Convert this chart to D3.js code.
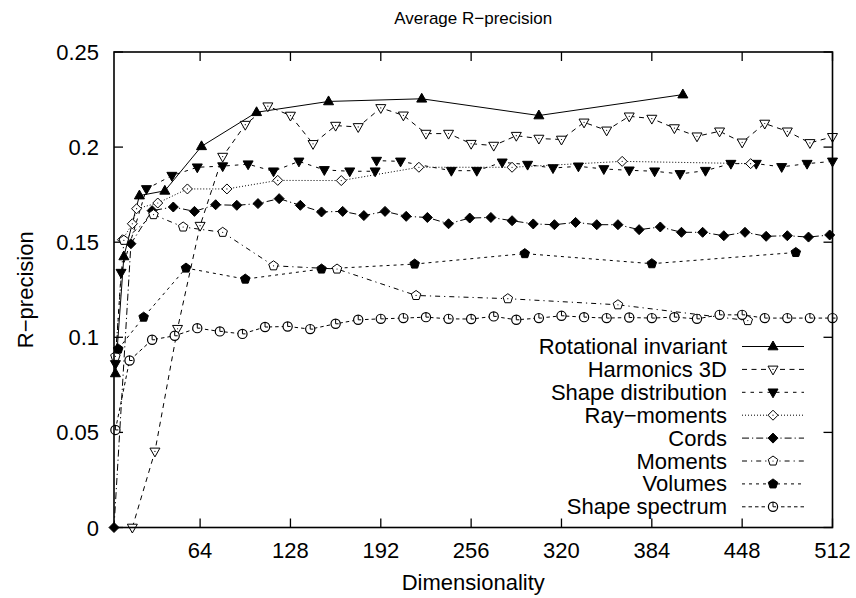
<!DOCTYPE html>
<html>
<head>
<meta charset="utf-8">
<script src="https://cdn.jsdelivr.net/npm/d3@7"></script>
<style>
  body { margin: 0; background: #fff; }
  svg text { font-family: "Liberation Sans", Arial, sans-serif; fill: #000; }
</style>
</head>
<body>
<svg class="svg"></svg>
<script>
// values: [dimensionality, R-precision]
const rotationalInvariant = [[4,0.081],[10,0.1425],[21,0.1745],[39,0.177],[65,0.2004],[104,0.2183],[155,0.224],[221,0.2254],[304,0.2166],[406,0.2276]]
const harmonics3D = [[16,0],[32,0.040],[48,0.1045],[64,0.1587],[80,0.195],[96,0.2118],[112,0.2215],[128,0.2166],[144,0.2017],[160,0.2113],[176,0.2106],[192,0.2206],[208,0.2167],[224,0.2071],[240,0.2071],[256,0.2018],[272,0.2008],[288,0.206],[304,0.2045],[320,0.204],[336,0.213],[352,0.2088],[368,0.2162],[384,0.215],[400,0.210],[416,0.2057],[432,0.2083],[448,0.2025],[464,0.2124],[480,0.2083],[496,0.2022],[512,0.2054]]
const shapeDistribution = [[4,0.086],[8,0.134],[26,0.178],[44,0.185],[62,0.1894],[80,0.190],[98,0.191],[116,0.1873],[134,0.1925],[152,0.188],[170,0.1873],[188,0.1873],[189,0.1929],[206,0.1925],[242,0.1876],[260,0.1876],[278,0.192],[296,0.1908],[314,0.189],[332,0.1899],[350,0.1885],[368,0.1878],[386,0.1873],[404,0.1859],[422,0.1876],[440,0.1913],[458,0.1913],[476,0.1896],[494,0.1913],[512,0.1925]]
const rayMoments = [[9,0.1513],[16,0.1597],[19,0.1676],[34,0.1706],[55,0.178],[83,0.178],[119,0.1825],[164,0.1824],[219,0.1894],[285,0.1894],[363,0.1925],[454,0.1913]]
const cords = [[3,0],[15,0.1492],[30,0.1666],[45,0.1685],[60,0.1662],[75,0.1697],[90,0.1694],[105,0.1703],[120,0.1729],[135,0.1694],[150,0.1659],[165,0.1662],[180,0.164],[195,0.1662],[210,0.1636],[225,0.163],[240,0.1597],[255,0.1627],[270,0.163],[285,0.1613],[300,0.1596],[315,0.1592],[330,0.1604],[345,0.1592],[360,0.1592],[375,0.1566],[390,0.158],[405,0.1552],[420,0.1552],[435,0.1534],[450,0.1552],[465,0.1531],[480,0.1534],[495,0.1527],[510,0.1538]]
const moments = [[4,0.09],[10,0.151],[31,0.1645],[52,0.158],[80,0.1552],[116,0.1376],[161,0.1359],[217,0.122],[282,0.1203],[360,0.1171],[452,0.1088]]
const volumes = [[6,0.0938],[24,0.1106],[54,0.1364],[96,0.1306],[150,0.1359],[216,0.1385],[294,0.144],[384,0.1387],[486,0.1446]]
const shapeSpectrum = [[4,0.0513],[14,0.0878],[30,0.0987],[46,0.1008],[62,0.1048],[78,0.1031],[94,0.1018],[110,0.1054],[126,0.1057],[142,0.1043],[160,0.1071],[176,0.1092],[192,0.1097],[208,0.1101],[224,0.1106],[240,0.1097],[256,0.1096],[272,0.111],[288,0.1092],[304,0.1101],[320,0.1113],[336,0.1106],[352,0.1101],[368,0.1104],[384,0.1101],[400,0.1106],[416,0.1097],[432,0.1118],[448,0.1118],[464,0.1101],[480,0.1101],[496,0.1101],[512,0.1101]]

const seriesNames = ["Rotational invariant", "Harmonics 3D", "Shape distribution", "Ray\u2212moments", "Cords", "Moments", "Volumes", "Shape spectrum"]
const xTicks = [64, 128, 192, 256, 320, 384, 448, 512]
const yTicks = [0, 0.05, 0.1, 0.15, 0.2, 0.25]

// line style + point type per series (gnuplot look)
const series = [
  { data: rotationalInvariant, dash: null, mark: "triUp", fill: true },
  { data: harmonics3D, dash: "5,4.5", mark: "triDown", fill: false },
  { data: shapeDistribution, dash: "3.5,5", mark: "triDown", fill: true },
  { data: rayMoments, dash: "1,2", mark: "diamond", fill: false },
  { data: cords, dash: "7,3,1.2,3", mark: "diamond", fill: true },
  { data: moments, dash: "5,4,1.2,4", mark: "pentagon", fill: false },
  { data: volumes, dash: "3,4", mark: "pentagon", fill: true },
  { data: shapeSpectrum, dash: "3.5,3", mark: "circle", fill: false }
].map((s, i) => ({ ...s, name: seriesNames[i] }))

const metrics = { width: 856, height: 598, left: 114, right: 832.5, top: 52, bottom: 527.5 }
const fontSize = "22px"

const svg = d3.select(".svg")
  .attr("width", metrics.width)
  .attr("height", metrics.height)

const x = d3.scaleLinear().domain([3, 512]).range([metrics.left, metrics.right])
const y = d3.scaleLinear().domain([0, 0.25]).range([metrics.bottom, metrics.top])

function markPath(type) {
  if (type === "triUp") return "M0,-5.5L5,3.3L-5,3.3Z"
  if (type === "triDown") return "M0,5.5L5,-3.3L-5,-3.3Z"
  if (type === "diamond") return "M0,-5L5,0L0,5L-5,0Z"
  if (type === "pentagon") {
    const pts = d3.range(5).map(k => {
      const a = -Math.PI / 2 + k * 2 * Math.PI / 5
      return [5 * Math.cos(a), 5 * Math.sin(a)]
    })
    return "M" + pts.map(p => p.join(",")).join("L") + "Z"
  }
  return null
}

function drawMark(g, s) {
  if (s.mark === "circle") {
    g.append("circle").attr("r", 4.6).attr("fill", "#fff").attr("stroke", "#000").attr("stroke-width", 1.2)
    g.append("path").attr("d", "M0,-4.6V0H3").attr("fill", "none").attr("stroke", "#000").attr("stroke-width", 1)
    return
  }
  g.append("path")
    .attr("d", markPath(s.mark))
    .attr("fill", s.fill ? "#000" : "#fff")
    .attr("stroke", "#000")
    .attr("stroke-width", 1)
  if (!s.fill) g.append("circle").attr("r", 0.6).attr("fill", "#000")
}

// frame ticks (inward, mirrored like gnuplot)
const axes = svg.append("g").attr("stroke", "#000").attr("stroke-width", 1.3)
xTicks.forEach(t => {
  axes.append("line").attr("x1", x(t)).attr("x2", x(t)).attr("y1", metrics.bottom).attr("y2", metrics.bottom - 9)
  axes.append("line").attr("x1", x(t)).attr("x2", x(t)).attr("y1", metrics.top).attr("y2", metrics.top + 9)
})
yTicks.forEach(t => {
  axes.append("line").attr("x1", metrics.left).attr("x2", metrics.left + 9).attr("y1", y(t)).attr("y2", y(t))
  axes.append("line").attr("x1", metrics.right).attr("x2", metrics.right - 9).attr("y1", y(t)).attr("y2", y(t))
})

svg.append("g").selectAll("text")
  .data(xTicks).join("text")
  .attr("x", d => x(d)).attr("y", 558)
  .attr("text-anchor", "middle").style("font-size", fontSize)
  .text(d => d)

svg.append("g").selectAll("text")
  .data(yTicks).join("text")
  .attr("x", 99).attr("y", d => y(d) + 8)
  .attr("text-anchor", "end").style("font-size", fontSize)
  .text(d => d)

// series lines and points
const line = d3.line().x(d => x(d[0])).y(d => y(d[1]))
const plot = svg.append("g")
series.forEach(s => {
  plot.append("path")
    .attr("d", line(s.data))
    .attr("fill", "none")
    .attr("stroke", "#000")
    .attr("stroke-width", 1)
    .attr("stroke-dasharray", s.dash)
})
series.forEach(s => {
  plot.append("g").selectAll("g")
    .data(s.data).join("g")
    .attr("transform", d => `translate(${x(d[0])},${y(d[1])})`)
    .each(function () { drawMark(d3.select(this), s) })
})

svg.append("rect")
  .attr("x", metrics.left).attr("y", metrics.top)
  .attr("width", metrics.right - metrics.left).attr("height", metrics.bottom - metrics.top)
  .attr("fill", "none").attr("stroke", "#000").attr("stroke-width", 1.6)

// legend
const legend = svg.append("g")
series.forEach((s, i) => {
  const ly = 346.5 + i * 22.9
  legend.append("text")
    .attr("x", 727).attr("y", ly + 7.5)
    .attr("text-anchor", "end").style("font-size", fontSize)
    .text(s.name)
  legend.append("line")
    .attr("x1", 742).attr("x2", 804).attr("y1", ly).attr("y2", ly)
    .attr("stroke", "#000").attr("stroke-width", 1)
    .attr("stroke-dasharray", s.dash)
  drawMark(legend.append("g").attr("transform", `translate(773,${ly})`), s)
})

// titles
svg.append("text").attr("x", (metrics.left + metrics.right) / 2).attr("y", 24)
  .attr("text-anchor", "middle").style("font-size", "17px")
  .text("Average R\u2212precision")
svg.append("text").attr("x", (metrics.left + metrics.right) / 2).attr("y", 590)
  .attr("text-anchor", "middle").style("font-size", fontSize)
  .text("Dimensionality")
svg.append("text")
  .attr("transform", `translate(33,${(metrics.top + metrics.bottom) / 2}) rotate(-90)`)
  .attr("text-anchor", "middle").style("font-size", fontSize)
  .text("R\u2212precision")
</script>
</body>
</html>
